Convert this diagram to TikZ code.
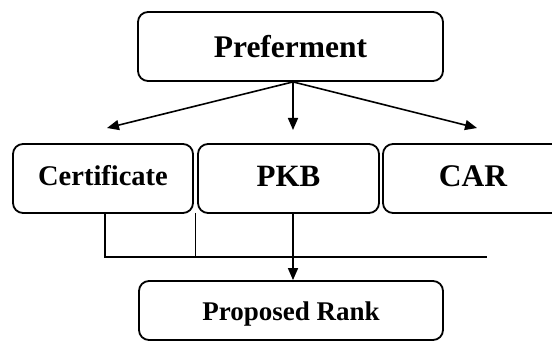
\documentclass[tikz,border=0pt]{standalone}
\usepackage{fontspec}
\setmainfont{Liberation Serif}
\usetikzlibrary{arrows.meta,calc}
\begin{document}
\begin{tikzpicture}[x=1pt,y=-1pt,
  box/.style={draw=black,line width=1.8pt,rounded corners=10pt,rectangle,
    inner sep=0pt,font=\bfseries},
  midbox/.style={box,minimum height=69pt,text height=22pt,text depth=5pt},
  link/.style={line width=1.6pt},
  arr/.style={link,-{Triangle[length=12pt,width=10pt]}}]
\useasboundingbox (0,0) rectangle (552,342);
\clip (0,0) rectangle (552,342);
% top and bottom boxes
\node[box,minimum width=305pt,minimum height=69pt,text height=21.6pt,text depth=0pt,
  font=\bfseries\fontsize{31.5}{33}\selectfont]
  (pref) at (290.5,46.5) {Preferment};
\node[box,minimum width=304pt,minimum height=59pt,text height=19pt,text depth=0pt,
  font=\bfseries\fontsize{27}{29}\selectfont]
  (rank) at (291,310.5) {Proposed Rank};
% middle row
\node[midbox,minimum width=180pt,text height=20pt,text depth=6pt,
  font=\bfseries\fontsize{28.5}{30}\selectfont]
  (cert) at (103,178.5) {Certificate};
\node[midbox,minimum width=181pt,font=\bfseries\fontsize{31}{33}\selectfont]
  (pkb) at (288.5,178.5) {PKB};
\node[midbox,minimum width=180pt,font=\bfseries\fontsize{31.5}{33}\selectfont]
  (car) at (473,178.5) {CAR};
% branching arrows from the top box
\coordinate (fork) at ($(pref.south)+(2.5,0)$);
\coordinate (tl) at (107,128);
\coordinate (tm) at (293,130);
\coordinate (tr) at (477,128);
\draw[arr] (fork) -- (tl);
\draw[arr] (fork) -- (tm);
\draw[arr] (fork) -- (tr);
% collecting line below the middle row
\coordinate (cdrop) at ($(cert.south)+(2,0)$);
\coordinate (bl) at (105,257);
\coordinate (br) at (487,257);
\coordinate (gt) at (195,213);
\coordinate (gb) at (195,257);
\coordinate (pdrop) at ($(pkb.south)+(4.5,0)$);
\draw[link] (cdrop) -- (bl) -- (br);
\draw[line width=0.9pt] (gt) -- (gb);
\draw[arr] (pdrop) -- (pdrop |- rank.north);
\end{tikzpicture}
\end{document}
